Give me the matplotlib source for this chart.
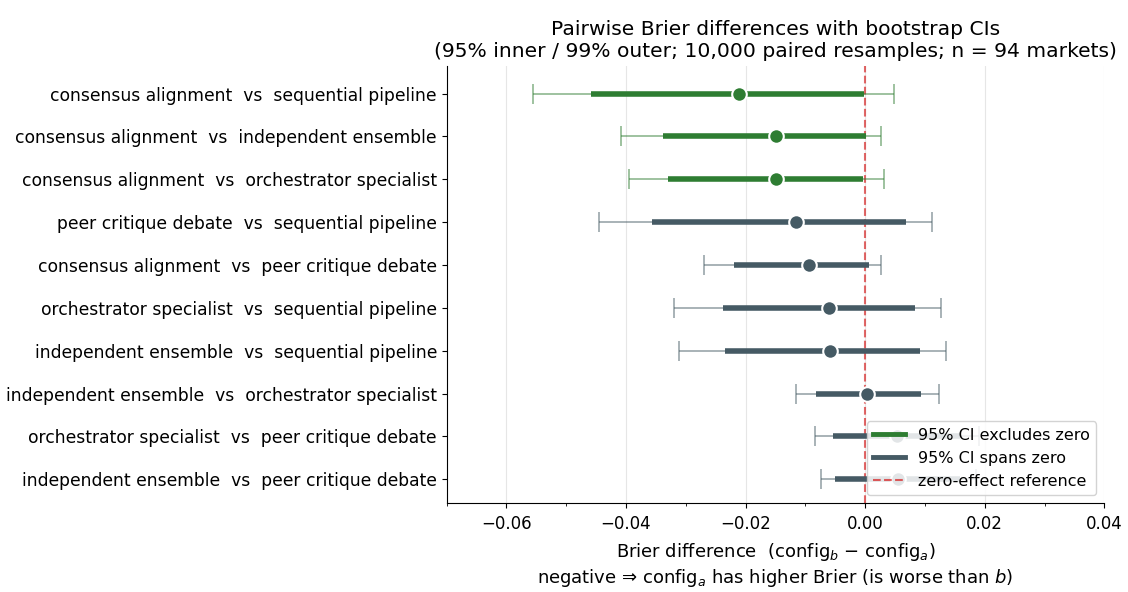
import matplotlib
matplotlib.use("Agg")
import matplotlib.pyplot as plt
from matplotlib.lines import Line2D

pairs = [
    "consensus alignment  vs  sequential pipeline",
    "consensus alignment  vs  independent ensemble",
    "consensus alignment  vs  orchestrator specialist",
    "peer critique debate  vs  sequential pipeline",
    "consensus alignment  vs  peer critique debate",
    "orchestrator specialist  vs  sequential pipeline",
    "independent ensemble  vs  sequential pipeline",
    "independent ensemble  vs  orchestrator specialist",
    "orchestrator specialist  vs  peer critique debate",
    "independent ensemble  vs  peer critique debate",
]
diff = [-0.0211, -0.0150, -0.0149, -0.0116, -0.0094, -0.0060, -0.0059, 0.0003, 0.0053, 0.0055]
ci95_lo = [-0.0459, -0.0339, -0.0330, -0.0357, -0.0219, -0.0238, -0.0235, -0.0082, -0.0053, -0.0050]
ci95_hi = [-0.0002, 0.0001, -0.0003, 0.0068, 0.0006, 0.0084, 0.0092, 0.0093, 0.0159, 0.0158]
ci99_lo = [-0.0555, -0.0408, -0.0395, -0.0446, -0.0270, -0.0320, -0.0312, -0.0115, -0.0084, -0.0074]
ci99_hi = [0.0049, 0.0027, 0.0031, 0.0112, 0.0026, 0.0126, 0.0135, 0.0123, 0.0190, 0.0185]
excludes_zero = [True, True, True, False, False, False, False, False, False, False]

GREEN = "#2e7d32"
SLATE = "#455a64"

fig = plt.figure(figsize=(11.28, 5.92), dpi=100)
ax = fig.add_axes([0.396, 0.150, 0.583, 0.739])

for i, name in enumerate(pairs):
    color = GREEN if excludes_zero[i] else SLATE
    ax.errorbar(diff[i], i, xerr=[[diff[i] - ci99_lo[i]], [ci99_hi[i] - diff[i]]],
                fmt="none", ecolor=color, elinewidth=1.3, capsize=7, capthick=1.3,
                alpha=0.5, zorder=2)
    ax.hlines(i, ci95_lo[i], ci95_hi[i], color=color, linewidth=4, zorder=3)
    ax.plot(diff[i], i, "o", color=color, markersize=10.5, markeredgecolor="white",
            markeredgewidth=1.5, zorder=4)

ax.axvline(0, color="#d62728", linestyle="--", linewidth=1.5, alpha=0.7, zorder=1)

ax.set_yticks(range(len(pairs)))
ax.set_yticklabels(pairs, fontsize=12.3)
ax.set_ylim(len(pairs) - 1 + 0.56, -0.65)
ax.set_xlim(-0.07, 0.04)
ax.set_xticks([-0.06, -0.04, -0.02, 0.0, 0.02, 0.04])
ax.set_xticks([-0.07, -0.05, -0.03, -0.01, 0.01, 0.03], minor=True)
ax.tick_params(axis="x", labelsize=12, pad=5)
ax.grid(True, axis="x", color="#e6e6e6", linewidth=0.8)
ax.set_axisbelow(True)
for side in ("top", "right"):
    ax.spines[side].set_visible(False)

ax.set_xlabel("Brier difference  (config$_b$ − config$_a$)\n"
              "negative ⇒ config$_a$ has higher Brier (is worse than $b$)", fontsize=13,
              labelpad=6)
ax.set_title("Pairwise Brier differences with bootstrap CIs\n"
             "(95% inner / 99% outer; 10,000 paired resamples; n = 94 markets)", fontsize=14.6)

handles = [
    Line2D([0], [0], color=GREEN, linewidth=3.5, label="95% CI excludes zero"),
    Line2D([0], [0], color=SLATE, linewidth=3.5, label="95% CI spans zero"),
    Line2D([0], [0], color="#d62728", linestyle="--", linewidth=1.5, alpha=0.75,
           label="zero-effect reference"),
]
ax.legend(handles=handles, loc="lower right", fontsize=11.5, framealpha=0.85)

fig.savefig("out.png", dpi=100)
